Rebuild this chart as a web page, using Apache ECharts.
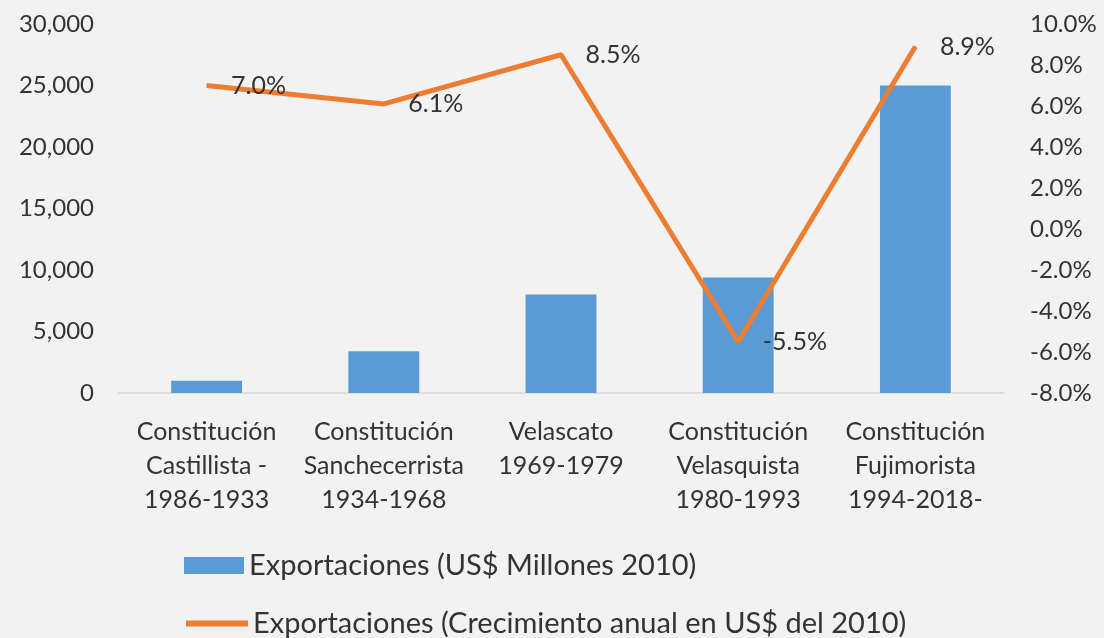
<!DOCTYPE html>
<html>
<head>
<meta charset="utf-8">
<script src="https://cdn.jsdelivr.net/npm/echarts@6/dist/echarts.min.js"></script>
<style>
html,body{margin:0;padding:0;background:#f2f2f2;}
#c{width:1104px;height:638px;}
</style>
</head>
<body>
<div id="c"></div>
<script>
var categories = [
  "Constitución\nCastillista -\n1986-1933",
  "Constitución\nSanchecerrista\n1934-1968",
  "Velascato\n1969-1979",
  "Constitución\nVelasquista\n1980-1993",
  "Constitución\nFujimorista\n1994-2018-"
];
var exportValues = [1000, 3400, 8000, 9400, 25000];
var growthValues = [7.0, 6.1, 8.5, -5.5, 8.9];
var barName = "Exportaciones (US$ Millones 2010)";
var lineName = "Exportaciones (Crecimiento anual en US$ del 2010)";

var FONT = "Lato, 'Liberation Sans', sans-serif";
var TXT = "#333333";
var legendText = {fontFamily: FONT, fontSize: 29, color: TXT};
var chart = echarts.init(document.getElementById('c'));
chart.setOption({
  backgroundColor: '#f2f2f2',
  textStyle: {fontFamily: FONT},
  grid: {left: 118, right: 100, top: 24, bottom: 245},
  legend: [
    {left: 184, top: 551, padding: 0, itemWidth: 60, itemHeight: 17, textStyle: legendText,
     data: [{name: barName, icon: 'rect'}]},
    {left: 183, top: 609, padding: 0, itemWidth: 62, itemHeight: 17, textStyle: legendText,
     data: [{name: lineName, itemStyle: {opacity: 0}, lineStyle: {width: 6}}]}
  ],
  xAxis: {
    type: 'category', data: categories,
    axisLine: {lineStyle: {color: '#d9d9d9', width: 1.5}},
    axisTick: {show: false},
    axisLabel: {fontFamily: FONT, fontSize: 25, color: TXT, lineHeight: 34, margin: 22, interval: 0}
  },
  yAxis: [
    {type: 'value', min: 0, max: 30000, interval: 5000,
     splitLine: {show: false}, axisLine: {show: false}, axisTick: {show: false},
     axisLabel: {fontFamily: FONT, fontSize: 24, color: TXT, margin: 24,
       formatter: function(v){return v.toLocaleString('en-US');}}},
    {type: 'value', min: -8, max: 10, interval: 2,
     splitLine: {show: false}, axisLine: {show: false}, axisTick: {show: false},
     axisLabel: {fontFamily: FONT, fontSize: 24, color: TXT, margin: 26,
       formatter: function(v){return v.toFixed(1) + '%';}}}
  ],
  series: [
    {name: barName, type: 'bar', data: exportValues, yAxisIndex: 0,
     barWidth: '40%', itemStyle: {color: '#5b9bd5'}},
    {name: lineName, type: 'line', data: growthValues, yAxisIndex: 1,
     symbol: 'circle', symbolSize: 1, showSymbol: true,
     lineStyle: {color: '#ed7d31', width: 5},
     itemStyle: {color: '#ed7d31'},
     label: {show: true, position: 'right', distance: 24, fontFamily: FONT, fontSize: 25, color: TXT,
       formatter: function(p){return p.value.toFixed(1) + '%';}}}
  ]
});
</script>
</body>
</html>
